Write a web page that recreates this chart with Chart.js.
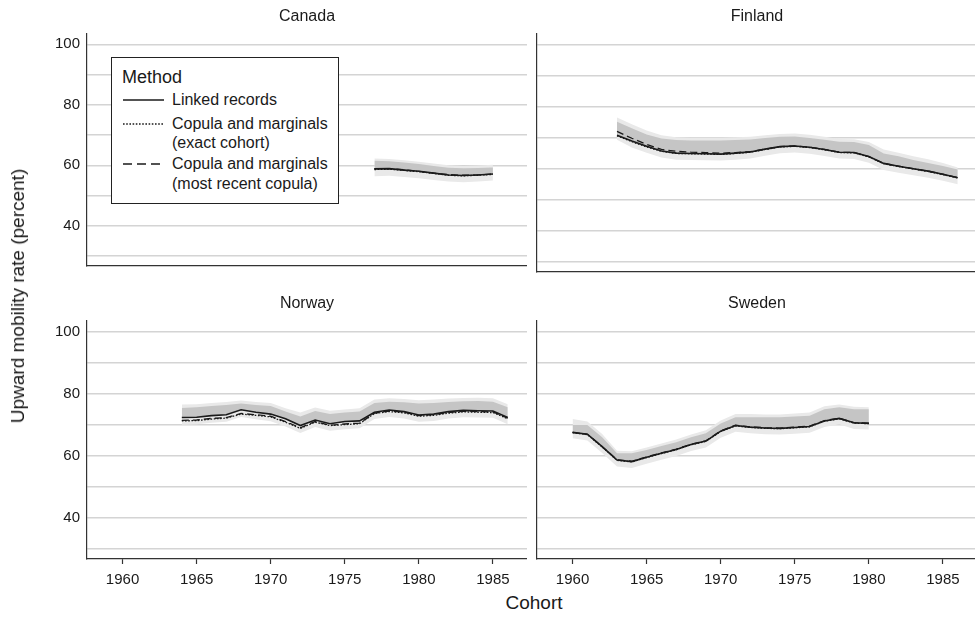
<!DOCTYPE html>
<html>
<head>
<meta charset="utf-8">
<script src="https://cdn.jsdelivr.net/npm/chart.js@4.4.1/dist/chart.umd.min.js"></script>
<style>
  html, body { margin: 0; padding: 0; background: #fff; width: 975px; height: 617px; overflow: hidden; }
  body { position: relative; font-family: "Liberation Sans", Arial, Helvetica, sans-serif; color: #1a1a1a; }
  canvas { position: absolute; }
  .lbl { position: absolute; white-space: nowrap; transform: translate(-50%, -50%); }
  .ptitle { font-size: 16px; }
  .atitle { font-size: 19px; }
  #legend { position: absolute; left: 111px; top: 57px; width: 226px; height: 145px; border: 1px solid #222; background: #fff; }
  #legend .t { position: absolute; white-space: nowrap; line-height: 20px; }
  #legend svg { position: absolute; }
</style>
</head>
<body>

<canvas id="cCanada" style="left:0;top:0"></canvas>
<canvas id="cFinland" style="left:450px;top:0"></canvas>
<canvas id="cNorway" style="left:0;top:287px"></canvas>
<canvas id="cSweden" style="left:450px;top:287px"></canvas>

<div class="lbl ptitle" style="left:307px;top:16px">Canada</div>
<div class="lbl ptitle" style="left:757px;top:16px">Finland</div>
<div class="lbl ptitle" style="left:307px;top:303px">Norway</div>
<div class="lbl ptitle" style="left:757px;top:303px">Sweden</div>
<div class="lbl atitle" style="left:18px;top:296px;transform:translate(-50%,-50%) rotate(-90deg)">Upward mobility rate (percent)</div>
<div class="lbl atitle" style="left:534px;top:603px">Cohort</div>

<div id="legend">
  <div class="t" style="left:10px;top:9px;font-size:18px">Method</div>
  <svg style="left:11px;top:40px" width="41" height="4"><line x1="0" y1="2" x2="41" y2="2" stroke="#1a1a1a" stroke-width="1.3"/></svg>
  <div class="t" style="left:60px;top:32px;font-size:16px">Linked records</div>
  <svg style="left:11px;top:64px" width="41" height="4"><line x1="0" y1="2" x2="41" y2="2" stroke="#1a1a1a" stroke-width="1.3" stroke-dasharray="1.6 1.6"/></svg>
  <div class="t" style="left:60px;top:56px;font-size:16px">Copula and marginals</div>
  <div class="t" style="left:60px;top:75px;font-size:16px">(exact cohort)</div>
  <svg style="left:11px;top:104px" width="41" height="4"><line x1="0" y1="2" x2="41" y2="2" stroke="#1a1a1a" stroke-width="1.3" stroke-dasharray="9 5"/></svg>
  <div class="t" style="left:60px;top:96px;font-size:16px">Copula and marginals</div>
  <div class="t" style="left:60px;top:116px;font-size:16px">(most recent copula)</div>
</div>

<script>
// ---- Axis ticks ----
const xTicks = [1960, 1965, 1970, 1975, 1980, 1985];
const yGrid = [30, 40, 50, 60, 70, 80, 90, 100];
const yLabels = [40, 60, 80, 100];

// ---- Canada, cohorts 1977-1985 ----
const canadaYears = [1977, 1978, 1979, 1980, 1981, 1982, 1983, 1984, 1985];
const canadaLinked = [58.8, 58.9, 58.4, 58.0, 57.4, 56.8, 56.6, 56.8, 57.1];
const canadaExact  = [58.6, 58.7, 58.3, 57.9, 57.3, 56.7, 56.5, 56.7, 57.0];
const canadaRecent = [58.9, 58.9, 58.5, 58.0, 57.4, 56.9, 56.7, 56.8, 57.1];
const canadaInnerHi = [61.5, 61.3, 60.9, 60.4, 59.8, 59.2, 59.0, 59.1, 59.3];
const canadaOuterLo = [56.4, 56.5, 56.1, 55.7, 55.1, 54.6, 54.4, 54.6, 55.0];
const canadaOuterHi = [62.2, 62.1, 61.7, 61.2, 60.6, 60.0, 59.8, 59.9, 60.2];

// ---- Finland, cohorts 1963-1986 ----
const finlandYears = [1963, 1964, 1965, 1966, 1967, 1968, 1969, 1970, 1971, 1972, 1973, 1974,
                      1975, 1976, 1977, 1978, 1979, 1980, 1981, 1982, 1983, 1984, 1985, 1986];
const finlandLinked = [70.8, 68.9, 67.2, 65.7, 65.0, 64.9, 64.8, 64.7, 65.0, 65.4, 66.3, 67.1,
                       67.3, 66.9, 66.2, 65.3, 65.2, 63.9, 61.7, 60.8, 60.0, 59.2, 58.2, 57.1];
const finlandExact  = [70.6, 68.7, 67.0, 65.6, 64.9, 64.8, 64.7, 64.6, 64.9, 65.3, 66.2, 67.0,
                       67.2, 66.8, 66.1, 65.2, 65.1, 63.8, 61.6, 60.7, 59.9, 59.1, 58.1, 57.0];
const finlandRecent = [72.0, 69.8, 67.8, 66.2, 65.6, 65.3, 65.2, 65.0, 65.2, 65.5, 66.3, 67.1,
                       67.3, 66.9, 66.2, 65.3, 65.2, 63.9, 61.7, 60.8, 60.0, 59.2, 58.2, 57.1];
const finlandInnerHi = [75.1, 73.0, 71.0, 69.7, 69.2, 69.1, 69.1, 69.1, 69.2, 69.4, 69.9, 70.3,
                        70.4, 69.9, 69.3, 68.7, 68.6, 67.6, 64.9, 64.0, 62.8, 61.8, 60.9, 59.7];
const finlandOuterLo = [69.3, 66.8, 65.1, 63.6, 62.9, 62.8, 62.7, 62.6, 62.9, 63.3, 64.2, 65.0,
                        65.2, 64.8, 64.1, 63.3, 63.1, 61.9, 59.6, 58.7, 57.9, 57.1, 56.1, 55.0];
const finlandOuterHi = [76.5, 74.3, 72.3, 70.8, 70.1, 70.0, 70.0, 70.0, 70.1, 70.3, 70.8, 71.2,
                        71.3, 70.9, 70.3, 69.6, 69.5, 68.6, 66.2, 65.1, 64.0, 63.0, 61.8, 60.4];

// ---- Norway, cohorts 1964-1986 ----
const norwayYears = [1964, 1965, 1966, 1967, 1968, 1969, 1970, 1971, 1972, 1973, 1974, 1975,
                     1976, 1977, 1978, 1979, 1980, 1981, 1982, 1983, 1984, 1985, 1986];
const norwayLinked = [72.3, 72.4, 72.9, 73.2, 74.8, 74.0, 73.4, 71.9, 69.7, 71.5, 70.3, 71.0,
                      71.2, 74.0, 74.7, 74.2, 73.1, 73.4, 74.2, 74.6, 74.5, 74.4, 72.3];
const norwayExact  = [71.2, 71.3, 71.8, 72.1, 73.4, 73.0, 72.5, 70.8, 68.8, 70.8, 69.7, 70.0,
                      70.3, 73.6, 74.2, 73.8, 72.7, 73.0, 73.7, 74.1, 74.0, 73.9, 71.9];
const norwayRecent = [71.4, 71.5, 72.0, 72.3, 73.6, 73.2, 72.7, 71.0, 69.0, 71.0, 69.8, 70.2,
                      70.5, 73.7, 74.4, 74.0, 72.9, 73.2, 73.9, 74.3, 74.2, 74.1, 72.1];
const norwayInnerHi = [75.4, 75.6, 76.0, 76.3, 76.8, 76.3, 76.0, 74.2, 72.6, 74.4, 73.4, 73.9,
                       74.2, 77.0, 77.4, 77.2, 76.8, 77.0, 77.3, 77.5, 77.6, 77.4, 75.6];
const norwayOuterLo = [70.0, 70.1, 70.6, 70.9, 72.5, 71.7, 71.1, 69.4, 67.3, 69.2, 68.0, 68.5,
                       68.8, 71.8, 72.5, 72.0, 70.9, 71.2, 72.0, 72.4, 72.3, 72.2, 70.1];
const norwayOuterHi = [76.5, 76.6, 77.0, 77.3, 77.8, 77.3, 77.0, 75.3, 73.9, 75.5, 74.5, 74.9,
                       75.3, 78.1, 78.5, 78.3, 77.9, 78.1, 78.4, 78.6, 78.7, 78.5, 76.6];

// ---- Sweden, cohorts 1960-1980 ----
const swedenYears = [1960, 1961, 1962, 1963, 1964, 1965, 1966, 1967, 1968, 1969, 1970,
                     1971, 1972, 1973, 1974, 1975, 1976, 1977, 1978, 1979, 1980];
const swedenLinked = [67.5, 66.9, 62.9, 58.6, 58.1, 59.5, 60.8, 62.0, 63.6, 64.7, 67.9,
                      69.7, 69.2, 68.9, 68.8, 69.1, 69.4, 71.2, 72.0, 70.6, 70.4];
const swedenExact  = [67.4, 66.8, 62.8, 58.5, 58.0, 59.4, 60.7, 61.9, 63.5, 64.6, 67.8,
                      69.6, 69.1, 68.8, 68.7, 69.0, 69.3, 71.1, 71.9, 70.5, 70.3];
const swedenRecent = [67.5, 66.9, 62.9, 58.7, 58.2, 59.6, 60.9, 62.1, 63.7, 64.8, 68.0,
                      69.8, 69.3, 69.0, 68.9, 69.2, 69.5, 71.3, 72.1, 70.6, 70.5];
const swedenInnerHi = [69.9, 69.9, 65.9, 60.8, 60.8, 61.8, 63.1, 64.3, 65.9, 67.2, 70.4,
                       72.4, 72.4, 72.4, 72.4, 72.6, 72.9, 75.0, 75.6, 75.0, 75.0];
const swedenOuterLo = [65.6, 64.9, 60.9, 56.5, 56.0, 57.4, 58.7, 59.9, 61.5, 62.6, 65.8,
                       67.7, 67.2, 66.9, 66.8, 67.1, 67.4, 69.2, 70.1, 68.6, 68.4];
const swedenOuterHi = [71.8, 71.0, 67.0, 61.6, 61.4, 62.6, 63.9, 65.2, 66.8, 68.2, 71.3,
                       73.4, 73.4, 73.3, 73.3, 73.6, 73.9, 75.9, 76.5, 75.8, 75.6];

// ---- Drawing ----
const FONT = '"Liberation Sans", Arial, Helvetica, sans-serif';
const INK = '#1a1a1a';
const AXIS = '#333333';
const NONE = 'rgba(0,0,0,0)';

function pts(xs, ys) { return xs.map((x, i) => ({ x: x, y: ys[i] })); }

function drawPanel(canvasId, years, linked, exact, recent, innerHi, outerLo, outerHi, showY, bottomRow) {
  const cv = document.getElementById(canvasId);
  cv.width = 527;
  cv.height = bottomRow ? 302 : 282;

  const line = (label, ys, dash, width) => ({
    label: label, data: pts(years, ys), borderColor: INK, borderWidth: width,
    borderDash: dash, pointRadius: 0, tension: 0, fill: false, order: 0
  });

  new Chart(cv, {
    type: 'line',
    data: {
      datasets: [
        line('Linked records', linked, [], 1.6),                                   // 0
        line('Copula and marginals (exact cohort)', exact, [1.6, 1.6], 1.3),        // 1
        line('Copula and marginals (most recent copula)', recent, [7, 4], 1.3),     // 2
        { label: 'inner', data: pts(years, innerHi), borderColor: NONE, borderWidth: 0,
          pointRadius: 0, tension: 0, fill: { target: 0 }, backgroundColor: '#c5c5c5', order: 2 },   // 3
        { label: 'outerLo', data: pts(years, outerLo), borderColor: NONE, borderWidth: 0,
          pointRadius: 0, tension: 0, fill: false, order: 3 },                                      // 4
        { label: 'outerHi', data: pts(years, outerHi), borderColor: NONE, borderWidth: 0,
          pointRadius: 0, tension: 0, fill: { target: 4 }, backgroundColor: '#e9e9e9', order: 3 }     // 5
      ]
    },
    options: {
      responsive: false,
      animation: false,
      devicePixelRatio: 1,
      layout: { padding: { top: 34, left: 0, right: 0, bottom: 0 } },
      plugins: { legend: { display: false }, tooltip: { enabled: false }, title: { display: false } },
      scales: {
        x: {
          type: 'linear', min: 1957.6, max: 1987.3,
          afterBuildTicks: sc => { sc.ticks = xTicks.map(v => ({ value: v })); },
          afterFit: sc => { sc.height = bottomRow ? 30 : 10; },
          grid: { drawOnChartArea: false, drawTicks: bottomRow, tickLength: 5, tickColor: AXIS, tickWidth: 1.2 },
          border: { display: true, color: AXIS, width: 1.2 },
          ticks: { display: bottomRow, padding: 7, color: INK, font: { family: FONT, size: 15 },
                   maxRotation: 0, autoSkip: false, callback: v => String(v) }
        },
        y: {
          type: 'linear', min: 26.7, max: 103.4,
          afterBuildTicks: sc => { sc.ticks = yGrid.map(v => ({ value: v })); },
          afterFit: sc => { sc.width = 87; },
          grid: { color: '#d4d4d4', lineWidth: 1.5, drawTicks: false },
          border: { display: true, color: AXIS, width: 1.2 },
          ticks: { display: showY, padding: 7, color: INK, font: { family: FONT, size: 15 },
                   callback: v => (yLabels.includes(v) ? String(v) : '') }
        }
      }
    }
  });
}

drawPanel('cCanada', canadaYears, canadaLinked, canadaExact, canadaRecent,
          canadaInnerHi, canadaOuterLo, canadaOuterHi, true, false);
drawPanel('cFinland', finlandYears, finlandLinked, finlandExact, finlandRecent,
          finlandInnerHi, finlandOuterLo, finlandOuterHi, false, false);
drawPanel('cNorway', norwayYears, norwayLinked, norwayExact, norwayRecent,
          norwayInnerHi, norwayOuterLo, norwayOuterHi, true, true);
drawPanel('cSweden', swedenYears, swedenLinked, swedenExact, swedenRecent,
          swedenInnerHi, swedenOuterLo, swedenOuterHi, false, true);
</script>
</body>
</html>
